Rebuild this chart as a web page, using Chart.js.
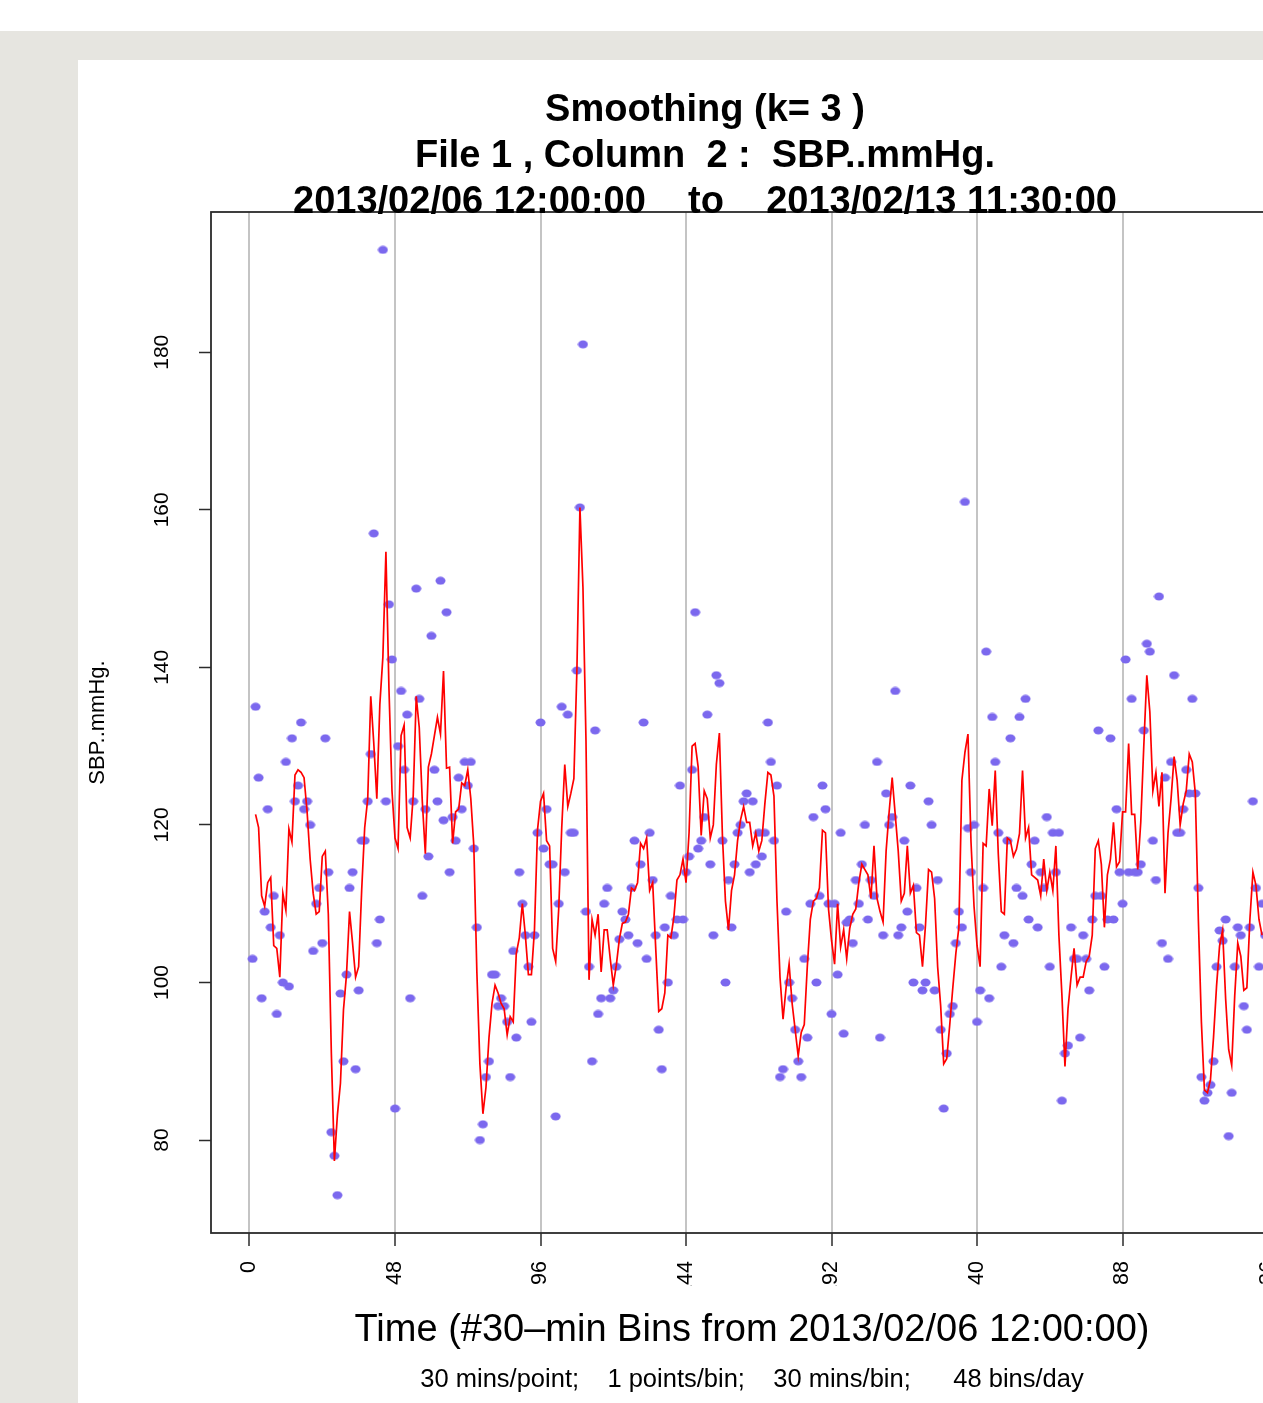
<!DOCTYPE html>
<html>
<head>
<meta charset="utf-8">
<script src="https://cdn.jsdelivr.net/npm/chart.js@4.4.1/dist/chart.umd.min.js"></script>
<style>
html,body{margin:0;padding:0;width:1263px;height:1403px;overflow:hidden;background:#fff}
#frame{position:absolute;left:0;top:31px;width:1263px;height:1372px;background:#e6e5e0}
#sheet{position:absolute;left:78px;top:60px;width:1185px;height:1343px;background:#fff}
#c{position:absolute;left:78px;top:60px}
</style>
</head>
<body>
<div id="frame"></div>
<div id="sheet"></div>
<canvas id="c" width="1280" height="1343"></canvas>
<script>
// SBP per 30-min bin, bins 1..335
const sbp=[
  103,135,126,98,109,122,107,111,96,106,
  100,128,99.5,131,123,125,133,122,123,120,
  104,110,112,105,131,114,81,78,73,98.6,
  90,101,112,114,89,99,118,118,123,129,
  157,105,108,193,123,148,141,84,130,137,
  127,134,98,123,150,136,111,122,116,144,
  127,123,151,120.6,147,114,121,118,126,122,
  128,125,128,117,107,80,82,88,90,101,
  101,97,98,97,95,88,104,93,114,110,
  106,102,95,106,119,133,117,122,115,115,
  83,110,135,114,134,119,119,139.6,160.3,181,
  109,102,90,132,96,98,110,112,98,99,
  102,105.5,109,108,106,112,118,105,115,133,
  103,119,113,106,94,89,107,100,111,106,
  108,125,108,114,116,127,147,117,118,121,
  134,115,106,139,138,118,100,113,107,115,
  119,120,123,124,114,123,115,119,116,119,
  133,128,118,125,88,89,109,100,98,94,
  90,88,103,93,110,121,100,111,125,122,
  110,96,110,101,119,93.5,107.6,108,105,113,
  110,115,120,108,113,111,128,93,106,124,
  120,121,137,106,107,118,109,125,100,112,
  107,99,100,123,120,99,113,94,84,91,
  96,97,105,109,107,161,119.6,114,120,95,
  99,112,142,98,133.7,128,119,102,106,118,
  131,105,112,133.7,111,136,108,115,118,107,
  114,112,121,102,119,114,119,85,91,92,
  107,103,103,93,106,103,99,108,111,132,
  111,102,108,131,108,122,114,110,141,114,
  136,114,114,115,132,143,142,118,113,149,
  105,126,103,128,139,119,119,122,127,124,
  136,124,112,88,85,86,87,90,102,106.6,
  105.3,108,80.5,86,102,107,106,97,94,107,
  123,112,102,110,106
];
const xTicks=[0,48,96,144,192,240,288,336];
const yTicks=[80,100,120,140,160,180];
const titleLines=['Smoothing (k= 3 )','File 1 , Column  2 :  SBP..mmHg.','2013/02/06 12:00:00    to    2013/02/13 11:30:00'];
const xTitle='Time (#30\u2013min Bins from 2013/02/06 12:00:00)';
const xSub='30 mins/point;    1 points/bin;    30 mins/bin;      48 bins/day';
const yTitle='SBP..mmHg.';

const pts=sbp.map((v,i)=>({x:i+1,y:v}));
// k=3 centred running mean, as in the title
const smooth=[];
for(let i=1;i<sbp.length-1;i++) smooth.push({x:i+1,y:(sbp[i-1]+sbp[i]+sbp[i+1])/3});

function dot(){
  const c=document.createElement('canvas'); c.width=11; c.height=9;
  const g=c.getContext('2d'); g.fillStyle='#7b68ee';
  g.beginPath(); g.ellipse(5.5,4.5,5,4,0,0,Math.PI*2); g.fill();
  return c;
}

const FONT='"Liberation Sans", Arial, Helvetica, sans-serif';
const rText={id:'rText',afterDraw(ch){
  const g=ch.ctx,a=ch.chartArea,xs=ch.scales.x,ys=ch.scales.y;
  g.save();
  g.strokeStyle='#2b2b2b'; g.lineWidth=1.8;
  g.strokeRect(a.left,a.top,a.right-a.left,a.bottom-a.top);
  g.fillStyle='#000'; g.textAlign='center'; g.textBaseline='alphabetic';
  g.font='bold 38px '+FONT;
  titleLines.forEach((t,i)=>g.fillText(t,627,61+i*46));
  g.font='38px '+FONT; g.fillText(xTitle,674,1281);
  g.font='25.5px '+FONT; g.fillText(xSub,674,1327);
  // y labels, rotated
  g.textBaseline='middle';
  g.font='21px '+FONT;
  yTicks.forEach(v=>{g.save();g.translate(84,ys.getPixelForValue(v));g.rotate(-Math.PI/2);g.fillText(String(v),0,0);g.restore();});
  g.font='22px '+FONT;
  g.save();g.translate(20,(a.top+a.bottom)/2);g.rotate(-Math.PI/2);g.fillText(yTitle,0,0);g.restore();
  // x labels, rotated and cut off like the source
  g.save(); g.beginPath(); g.rect(0,a.bottom,ch.width,1226-a.bottom); g.clip();
  g.font='21.5px '+FONT; g.textAlign='right';
  xTicks.forEach(v=>{g.save();g.translate(xs.getPixelForValue(v),a.bottom+28);g.rotate(-Math.PI/2);g.fillText(String(v),0,0);g.restore();});
  g.restore();
  g.restore();
}};

new Chart(document.getElementById('c'),{
  type:'scatter',
  data:{datasets:[
    {type:'line',data:smooth,borderColor:'#ff0000',borderWidth:1.7,pointRadius:0,tension:0,fill:false},
    {data:pts,pointStyle:dot(),pointRadius:5,backgroundColor:'#7b68ee',borderWidth:0}
  ]},
  options:{responsive:false,animation:false,devicePixelRatio:1,
    layout:{padding:{top:152,right:49,left:0,bottom:0}},
    plugins:{legend:{display:false},tooltip:{enabled:false},title:{display:false}},
    scales:{
      x:{type:'linear',min:-12.7,max:349.5,
        afterBuildTicks:s=>{s.ticks=xTicks.map(v=>({value:v}));},
        afterFit:s=>{s.height=170;},
        ticks:{display:false},
        grid:{color:'#c4c4c4',lineWidth:2,drawTicks:true,tickLength:13,tickColor:'#2b2b2b',tickWidth:1.5},
        border:{display:false}},
      y:{min:68.2,max:197.8,
        afterBuildTicks:s=>{s.ticks=yTicks.map(v=>({value:v}));},
        afterFit:s=>{s.width=133;},
        ticks:{display:false},
        grid:{drawOnChartArea:false,drawTicks:true,tickLength:12,tickColor:'#2b2b2b',tickWidth:1.5},
        border:{display:false}}
    }
  },
  plugins:[rText]
});
</script>
</body>
</html>
